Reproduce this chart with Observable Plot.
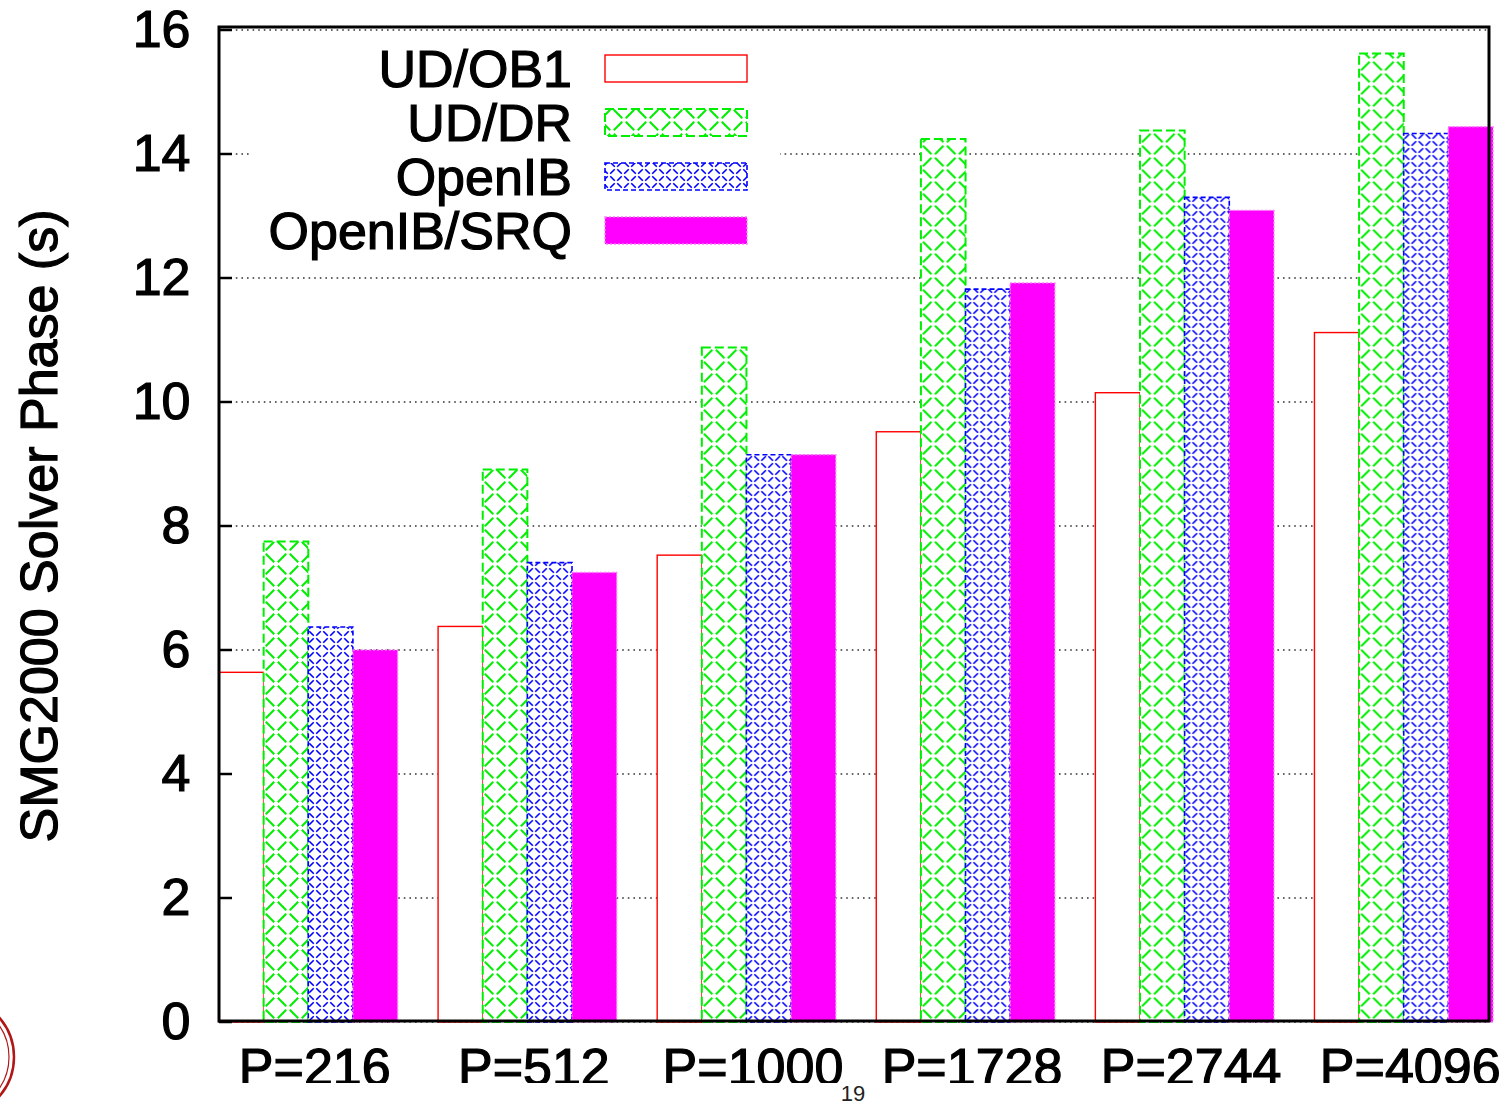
<!DOCTYPE html>
<html>
<head>
<meta charset="utf-8">
<script src="https://cdn.jsdelivr.net/npm/d3@7"></script>
<script src="https://cdn.jsdelivr.net/npm/@observablehq/plot@0.6"></script>
<style>
html, body { margin: 0; padding: 0; background: #fff; }
#wrap { position: relative; width: 1506px; height: 1105px; overflow: hidden; font-family: "Liberation Sans", Arial, sans-serif; background: #fff; }
#page { position: absolute; left: 833px; top: 1083px; width: 40px; text-align: center; font-size: 22px; color: #222; line-height: 22px; }
#logo { position: absolute; left: 0; top: 990px; }
</style>
</head>
<body>
<div id="wrap"></div>
<script>
// ---- data ----
const groups = ["216", "512", "1000", "1728", "2744", "4096"];
const series = ["UD/OB1", "UD/DR", "OpenIB", "OpenIB/SRQ"];
const udOb1     = [5.64, 6.38, 7.53, 9.52, 10.15, 11.12];
const udDr      = [7.75, 8.91, 10.88, 14.24, 14.38, 15.62];
const openIb    = [6.37, 7.41, 9.15, 11.82, 13.30, 14.33];
const openIbSrq = [6.00, 7.25, 9.15, 11.92, 13.09, 14.44];
const yTicks = [0, 2, 4, 6, 8, 10, 12, 14, 16];
const yTitle = "SMG2000 Solver Phase (s)";
const pageNumber = "19";

const seriesValues = [udOb1, udDr, openIb, openIbSrq];
const table = [];
groups.forEach((g, i) => {
  series.forEach((s, j) => table.push({group: g, series: s, value: seriesValues[j][i]}));
});

// ---- styles ----
const styles = {
  "UD/OB1":     {fill: "white", stroke: "#ff0000", strokeWidth: 1.4},
  "UD/DR":      {fill: "url(#pat-dr)", stroke: "#00ee00", strokeWidth: 2, strokeDasharray: "9,4"},
  "OpenIB":     {fill: "url(#pat-ib)", stroke: "#0000ff", strokeWidth: 1.6, strokeDasharray: "5,3"},
  "OpenIB/SRQ": {fill: "#ff00ff", stroke: "#ff77ff", strokeWidth: 1.4, strokeDasharray: "2,2"}
};
const FONT = '"Liberation Sans", Arial, sans-serif';
const TEXT_STROKE = 1.2;

const chart = Plot.plot({
  width: 1506,
  height: 1083,
  marginLeft: 219,
  marginRight: 13,
  marginTop: 30,
  marginBottom: 61,
  style: {fontFamily: FONT, fontSize: "52px", background: "transparent", overflow: "hidden", color: "#000"},
  facet: {data: table, x: "group"},
  fx: {domain: groups, axis: "bottom", paddingInner: 0.185, paddingOuter: 0, round: false,
       label: null, tickSize: 0, tickPadding: 26, tickFormat: d => "P=" + d},
  x: {domain: series, padding: 0, round: false, axis: null},
  y: {domain: [0, 16], ticks: yTicks, tickSize: 0, tickPadding: 29, label: null, tickFormat: d => String(d)},
  marks: series.map(s => Plot.barY(table, {
    filter: d => d.series === s, x: "series", y: "value", ...styles[s]
  }))
});

const wrap = document.getElementById("wrap");
wrap.appendChild(chart);

const svg = d3.select(chart);
const y = chart.scale("y");
const xL = 219, xR = 1489, frameTop = 27, frameBottom = 1021;

// heavier text like the reference
svg.selectAll("text").attr("stroke", "#000").attr("stroke-width", TEXT_STROKE);
// shift fx labels slightly right, as in the reference
svg.selectAll("text").filter(function() { return /^P=/.test(this.textContent); }).attr("dx", 6);

// patterns (gaps at the crossings, as in the reference hatch)
const defs = svg.insert("defs", ":first-child");
const pdr = defs.append("pattern").attr("id", "pat-dr").attr("patternUnits", "userSpaceOnUse")
  .attr("width", 24).attr("height", 24);
pdr.append("rect").attr("width", 24).attr("height", 24).attr("fill", "white");
pdr.append("path").attr("d", "M0,0L24,24M24,0L0,24").attr("fill", "none")
  .attr("stroke", "#00ee00").attr("stroke-width", 2).attr("stroke-dasharray", "12,5").attr("stroke-dashoffset", 14.5);
const pib = defs.append("pattern").attr("id", "pat-ib").attr("patternUnits", "userSpaceOnUse")
  .attr("width", 14).attr("height", 14);
pib.append("rect").attr("width", 14).attr("height", 14).attr("fill", "white");
pib.append("path").attr("d", "M0,0L14,14M14,0L0,14").attr("fill", "none")
  .attr("stroke", "#0000ff").attr("stroke-width", 1.6).attr("stroke-dasharray", "6.4,3.5").attr("stroke-dashoffset", 8.1);

// gridlines behind everything
const grid = svg.insert("g", "g").attr("class", "grid");
yTicks.forEach(v => {
  grid.append("line").attr("x1", xL).attr("x2", xR)
    .attr("y1", y.apply(v)).attr("y2", y.apply(v))
    .attr("stroke", "#333").attr("stroke-width", 1.3).attr("stroke-dasharray", "1.6,4");
});

// legend
const lg = svg.append("g").attr("class", "legend");
lg.append("rect").attr("x", 250).attr("y", 36).attr("width", 530).attr("height", 226).attr("fill", "white");
const rowsY = [68, 122, 176, 230];
series.forEach((s, i) => {
  lg.append("text").attr("x", 572).attr("y", rowsY[i]).attr("dy", "0.36em")
    .attr("text-anchor", "end").attr("font-size", 52).attr("font-family", FONT).attr("fill", "#000")
    .attr("stroke", "#000").attr("stroke-width", TEXT_STROKE).text(s);
  const st = styles[s];
  lg.append("rect").attr("x", 605).attr("y", rowsY[i] - 13).attr("width", 142).attr("height", 27)
    .attr("fill", st.fill).attr("stroke", st.stroke).attr("stroke-width", st.strokeWidth)
    .attr("stroke-dasharray", st.strokeDasharray || null);
});

// frame and inward ticks
const fr = svg.append("g").attr("class", "frame");
fr.append("rect").attr("x", xL).attr("y", frameTop).attr("width", xR - xL).attr("height", frameBottom - frameTop)
  .attr("fill", "none").attr("stroke", "#000").attr("stroke-width", 3);
yTicks.forEach(v => {
  fr.append("line").attr("x1", xL).attr("x2", xL + 13)
    .attr("y1", y.apply(v)).attr("y2", y.apply(v)).attr("stroke", "#000").attr("stroke-width", 2.5);
});

// y title
svg.append("text").attr("transform", "translate(57,526) rotate(-90)")
  .attr("text-anchor", "middle").attr("font-size", 52).attr("font-family", FONT).attr("fill", "#000")
  .attr("stroke", "#000").attr("stroke-width", TEXT_STROKE)
  .text(yTitle);

// page number and partial seal
const pg = document.createElement("div");
pg.id = "page"; pg.textContent = pageNumber;
wrap.appendChild(pg);

const logo = d3.select(wrap).append("svg").attr("id", "logo").attr("width", 20).attr("height", 115);
logo.append("circle").attr("cx", -46).attr("cy", 67).attr("r", 60).attr("fill", "none")
  .attr("stroke", "#b01818").attr("stroke-width", 2.5);
logo.append("circle").attr("cx", -46).attr("cy", 67).attr("r", 55).attr("fill", "none")
  .attr("stroke", "#b01818").attr("stroke-width", 1.2);
</script>
</body>
</html>
